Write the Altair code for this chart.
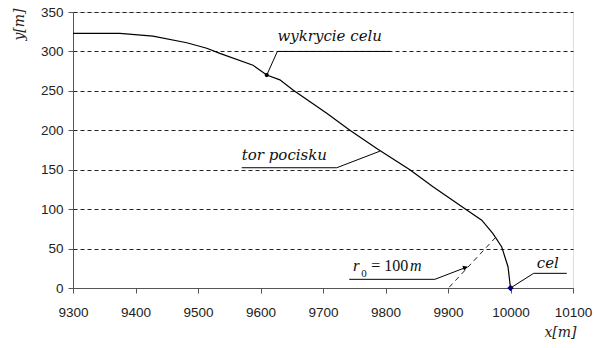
import altair as alt
import pandas as pd

# Trajectory of the missile (x [m], y [m])
traj_x = [9300, 9375, 9428, 9482, 9514, 9535, 9588, 9610, 9631, 9652, 9706, 9743,
          9786, 9839, 9876, 9930, 9954, 9972, 9986, 9996, 10000]
traj_y = [323, 323, 319.5, 311, 304, 297.5, 282.5, 270, 264, 251, 221.5, 200,
          177, 150, 128.5, 99, 86, 69, 52, 27, 0]

# Dashed r0 segment
r0_x = [9902, 9976]
r0_y = [1, 64]

# Detection point and target
det_x, det_y = [9610], [270]
tgt_x, tgt_y = [10000], [0]

# Annotation leader polylines (group, x, y)
lead_group = ["w", "w", "w", "t", "t", "t", "r", "r", "r", "c", "c", "c"]
lead_x = [9610, 9627, 9808, 9570, 9722, 9791, 9742, 9879, 9930, 10000, 10037, 10090]
lead_y = [270, 300, 300, 152.5, 152.5, 173.5, 11, 11, 26.5, 0, 18.6, 18.6]

# Annotation texts
ann_text = ["wykrycie celu", "tor pocisku", "cel"]
ann_x = [9627, 9570, 10042]
ann_y = [313, 162, 25]

x_ticks = [9300, 9400, 9500, 9600, 9700, 9800, 9900, 10000, 10100]
y_ticks = [0, 50, 100, 150, 200, 250, 300, 350]

traj = pd.DataFrame({"x": traj_x, "y": traj_y, "o": list(range(len(traj_x)))})
r0 = pd.DataFrame({"x": r0_x, "y": r0_y})
det = pd.DataFrame({"x": det_x, "y": det_y})
tgt = pd.DataFrame({"x": tgt_x, "y": tgt_y})
lead = pd.DataFrame({"g": lead_group, "x": lead_x, "y": lead_y, "o": list(range(len(lead_x)))})
ann = pd.DataFrame({"t": ann_text, "x": ann_x, "y": ann_y})

xs = alt.Scale(domain=[9300, 10100], nice=False, zero=False)
ys = alt.Scale(domain=[0, 350], nice=False)

XAX = alt.Axis(
    values=x_ticks, grid=False, title="x[m]", format="d", labelFlush=False,
    labelOverlap=False,
    labelFont="Liberation Sans", labelFontSize=13.5, labelColor="#222",
    labelPadding=12, tickSize=5, tickColor="#555", domainColor="#555",
    titleFont="DejaVu Serif", titleFontStyle="italic", titleFontWeight="normal",
    titleFontSize=14, titleColor="#222", titleX=487, titleY=48,
    titleAlign="center", titleBaseline="alphabetic")
YAX = alt.Axis(
    values=y_ticks, grid=True, gridDash=[4, 3], gridColor="#222", title="y[m]",
    labelOverlap=False, labelFlush=False,
    labelFont="Liberation Sans", labelFontSize=13.5, labelColor="#222",
    labelPadding=5, tickSize=5, tickColor="#555", domainColor="#555",
    titleFont="DejaVu Serif", titleFontStyle="italic", titleFontWeight="normal",
    titleFontSize=14, titleColor="#222", titleX=-54, titleY=12, titleAngle=270,
    titleAlign="center", titleBaseline="middle")


def X():
    return alt.X("x:Q", scale=xs, axis=XAX)


def Y():
    return alt.Y("y:Q", scale=ys, axis=YAX)


curve = alt.Chart(traj).mark_line(color="black", strokeWidth=1.2).encode(
    x=X(), y=Y(), order="o:Q")
r0line = alt.Chart(r0).mark_line(color="#222", strokeWidth=1, strokeDash=[5, 4]).encode(
    x=X(), y=Y())
leaders = alt.Chart(lead).mark_line(color="black", strokeWidth=1).encode(
    x=X(), y=Y(), detail="g:N", order="o:Q")
arrow = alt.Chart(pd.DataFrame({"x": [9928], "y": [26]})).mark_point(
    shape="triangle-right", filled=True, color="black", size=30, angle=342, opacity=1).encode(
    x=X(), y=Y())
detp = alt.Chart(det).mark_point(filled=True, color="black", size=18, opacity=1).encode(
    x=X(), y=Y())
tgtp = alt.Chart(tgt).mark_point(shape="diamond", filled=True, color="#000080", size=40, opacity=1).encode(
    x=X(), y=Y())
texts = alt.Chart(ann).mark_text(font="DejaVu Serif", fontStyle="italic", fontSize=15,
                                 align="left", baseline="alphabetic", color="#111").encode(
    x=X(), y=Y(), text="t:N")

# r0 = 100m label pieces
r_text = ["r", "0", "= 100", "m"]
r_x = [9748, 9761, 9777, 9839]
r_y = [21.5, 14, 21.5, 21.5]
r_fs = [17, 11, 16, 16]
r_st = ["italic", "normal", "normal", "italic"]
rtexts = []
for i in range(len(r_text)):
    rtexts.append(alt.Chart(pd.DataFrame({"t": [r_text[i]], "x": [r_x[i]], "y": [r_y[i]]})).mark_text(
        font="Liberation Serif", fontStyle=r_st[i], fontSize=r_fs[i],
        align="left", baseline="alphabetic", color="#111").encode(
        x=X(), y=Y(), text="t:N"))

chart = alt.layer(curve, r0line, leaders, arrow, detp, tgtp, texts, *rtexts).properties(
    width=500, height=276,
    autosize=alt.AutoSizeParams(type="none"),
    padding={"left": 73, "top": 12, "right": 21, "bottom": 60},
).configure_view(stroke=None).configure(background="white")

chart.save("out.html", embed_options={"renderer": "svg", "actions": False})
